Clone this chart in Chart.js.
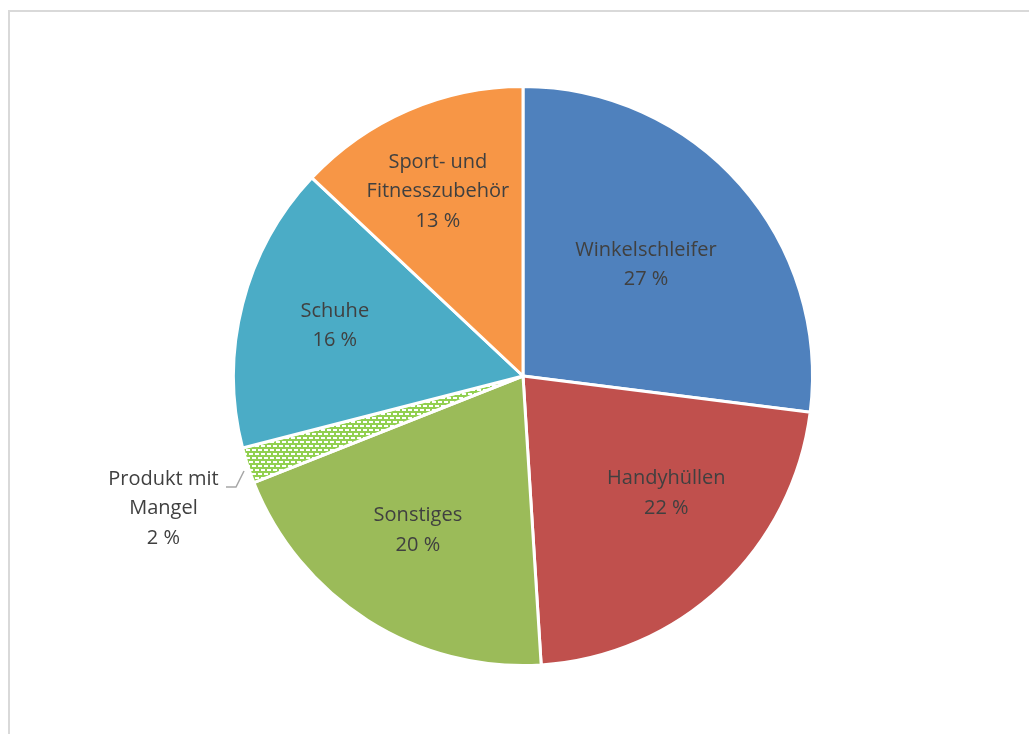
<!DOCTYPE html>
<html>
<head>
<meta charset="utf-8">
<script src="https://cdn.jsdelivr.net/npm/chart.js@4/dist/chart.umd.min.js"></script>
<style>
    html, body { margin: 0; padding: 0; background: #fff; overflow: hidden; }
    #frame {
        position: absolute; left: 8px; top: 10px; width: 1100px; height: 800px;
        border-left: 2px solid #d9d9d9; border-top: 2px solid #d9d9d9;
    }
    #wrap { position: absolute; left: 0; top: 0; width: 1029px; height: 734px; }
</style>
</head>
<body>
<div id="frame"></div>
<div id="wrap"><canvas id="pie"></canvas></div>
<script>
// Anteile der Retouren nach Warengruppe
let categories = ['Winkelschleifer', 'Handyhüllen', 'Sonstiges', 'Produkt mit Mangel', 'Schuhe', 'Sport- und Fitnesszubehör'];
let percents = [27, 22, 20, 2, 16, 13];
// Zeilen der Beschriftungen
let labelLines = [['Winkelschleifer'], ['Handyhüllen'], ['Sonstiges'], ['Produkt mit', 'Mangel'], ['Schuhe'], ['Sport- und', 'Fitnesszubehör']];

// gestricheltes Muster für "Produkt mit Mangel"
function dashPattern() {
    let c = document.createElement('canvas');
    c.width = 6; c.height = 8;
    let g = c.getContext('2d');
    g.fillStyle = '#92d050';
    g.fillRect(0, 0, 6, 8);
    g.fillStyle = '#ffffff';
    g.fillRect(0, 1, 4, 2);
    g.fillRect(3, 5, 3, 2);
    g.fillRect(0, 5, 1, 2);
    return document.getElementById('pie').getContext('2d').createPattern(c, 'repeat');
}

let colors = ['#4f81bd', '#c0504d', '#9bbb59', dashPattern(), '#4bacc6', '#f79646'];

// Lage der Beschriftungen relativ zum Mittelpunkt, in Anteilen des Radius
let labelPos = [[0.425, -0.384], [0.495, 0.405], [-0.363, 0.533], [-1.242, 0.457], [-0.65, -0.173], [-0.294, -0.637]];

let sliceLabels = {
    id: 'sliceLabels',
    afterDatasetsDraw(chart) {
        let ctx = chart.ctx;
        let meta = chart.getDatasetMeta(0);
        ctx.save();
        ctx.font = '20px "Open Sans"';
        ctx.fillStyle = '#404040';
        ctx.textAlign = 'center';
        ctx.textBaseline = 'middle';
        let lh = 29.5;
        meta.data.forEach(function (arc, i) {
            let lines = labelLines[i].concat([percents[i] + ' %']);
            let r = arc.outerRadius;
            let x = arc.x + labelPos[i][0] * r;
            let y = arc.y + labelPos[i][1] * r;
            if (i === 3) {
                // Führungslinie zur schmalen Scheibe
                ctx.strokeStyle = '#a6a6a6';
                ctx.lineWidth = 1.5;
                ctx.beginPath();
                ctx.moveTo(arc.x - 297, arc.y + 111);
                ctx.lineTo(arc.x - 287, arc.y + 111);
                ctx.lineTo(arc.x - 279, arc.y + 95);
                ctx.stroke();
            }
            let y0 = y - (lines.length - 1) * lh / 2;
            lines.forEach(function (t, k) {
                ctx.fillText(t, x, y0 + k * lh);
            });
        });
        ctx.restore();
    }
};

new Chart(document.getElementById('pie'), {
    type: 'pie',
    data: {
        labels: categories,
        datasets: [{
            data: percents,
            backgroundColor: colors,
            borderColor: '#ffffff',
            borderWidth: 3
        }]
    },
    options: {
        responsive: true,
        maintainAspectRatio: false,
        animation: false,
        layout: { padding: { left: 232, right: 215, top: 85, bottom: 67 } },
        plugins: {
            legend: { display: false },
            tooltip: { enabled: false }
        }
    },
    plugins: [sliceLabels]
});
</script>
</body>
</html>
